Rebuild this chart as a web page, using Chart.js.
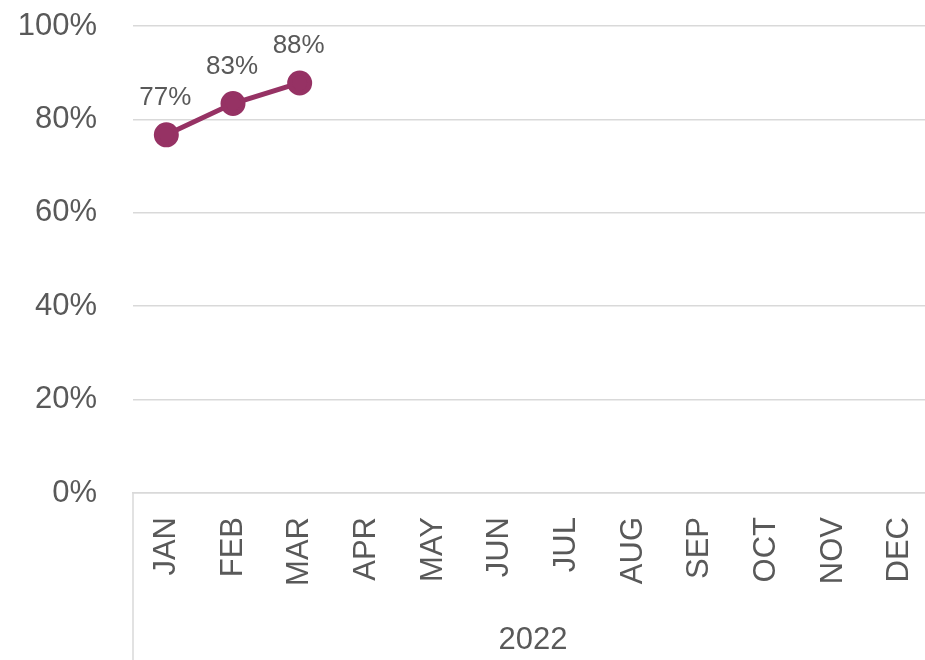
<!DOCTYPE html>
<html>
<head>
<meta charset="utf-8">
<script src="https://cdn.jsdelivr.net/npm/chart.js@4"></script>
<style>
  html, body { margin: 0; padding: 0; background: #fff; }
  #wrap { width: 925px; height: 660px; }
</style>
</head>
<body>
<div id="wrap"><canvas id="chart" width="925" height="660"></canvas></div>
<script>
const months = ['JAN', 'FEB', 'MAR', 'APR', 'MAY', 'JUN', 'JUL', 'AUG', 'SEP', 'OCT', 'NOV', 'DEC'];
const rate = [76.7, 83.4, 87.8];
const yearLabel = '2022';
const yTicks = [0, 20, 40, 60, 80, 100];

const textColor = '#595959';
const lineColor = '#963264';
const fontFamily = '"Liberation Sans", Arial, sans-serif';

// value labels above each point
const valueLabels = {
    id: 'valueLabels',
    afterDatasetsDraw(chart) {
        const ctx = chart.ctx;
        const meta = chart.getDatasetMeta(0);
        ctx.save();
        ctx.font = '26px ' + fontFamily;
        ctx.fillStyle = textColor;
        ctx.textAlign = 'center';
        ctx.textBaseline = 'middle';
        meta.data.forEach((pt, i) => {
            ctx.fillText(Math.round(rate[i]) + '%', pt.x - 1, pt.y - 37);
        });
        ctx.restore();
    }
};

// year group label under month labels, with left separator line
const yearGroup = {
    id: 'yearGroup',
    afterDraw(chart) {
        const ctx = chart.ctx;
        const area = chart.chartArea;
        const x = chart.scales.x;
        ctx.save();
        ctx.strokeStyle = '#d9d9d9';
        ctx.lineWidth = 1.5;
        ctx.beginPath();
        ctx.moveTo(area.left, area.bottom);
        ctx.lineTo(area.left, chart.height);
        ctx.stroke();
        ctx.font = '31px ' + fontFamily;
        ctx.fillStyle = textColor;
        ctx.textAlign = 'center';
        ctx.textBaseline = 'middle';
        const mid = (x.getPixelForValue(0) + x.getPixelForValue(months.length - 1)) / 2;
        ctx.fillText(yearLabel, mid, 640);
        ctx.restore();
    }
};

new Chart(document.getElementById('chart').getContext('2d'), {
    type: 'line',
    data: {
        datasets: [{
            data: rate.map((v, i) => ({ x: i, y: v })),
            borderColor: lineColor,
            backgroundColor: lineColor,
            borderWidth: 5,
            pointRadius: 10,
            pointHoverRadius: 10,
            pointBackgroundColor: lineColor,
            pointBorderColor: lineColor,
            tension: 0,
            clip: false
        }]
    },
    options: {
        responsive: false,
        maintainAspectRatio: false,
        animation: false,
        layout: { autoPadding: false, padding: { top: 26, right: 0, bottom: 0, left: 0 } },
        plugins: {
            legend: { display: false },
            tooltip: { enabled: false }
        },
        scales: {
            x: {
                type: 'linear',
                min: -0.5,
                max: 11.38,
                afterBuildTicks(scale) {
                    scale.ticks = months.map((m, i) => ({ value: i }));
                },
                afterFit(scale) {
                    scale.height = 167;
                    scale.paddingLeft = 0;
                    scale.paddingRight = 0;
                },
                grid: { display: false, drawTicks: false },
                border: { display: true, color: '#d9d9d9', width: 1.5 },
                ticks: {
                    autoSkip: false,
                    maxRotation: 90,
                    minRotation: 90,
                    padding: 24,
                    color: textColor,
                    font: { size: 31, family: fontFamily },
                    callback: v => months[v]
                }
            },
            y: {
                min: 0,
                max: 100,
                afterBuildTicks(scale) {
                    scale.ticks = yTicks.map(v => ({ value: v }));
                },
                afterFit(scale) {
                    scale.width = 133;
                    scale.paddingTop = 0;
                    scale.paddingBottom = 0;
                },
                grid: { color: '#d9d9d9', lineWidth: 1.5, drawTicks: false },
                border: { display: false },
                ticks: {
                    padding: 36,
                    color: textColor,
                    font: { size: 31, family: fontFamily },
                    callback: v => v + '%'
                }
            }
        }
    },
    plugins: [valueLabels, yearGroup]
});
</script>
</body>
</html>
